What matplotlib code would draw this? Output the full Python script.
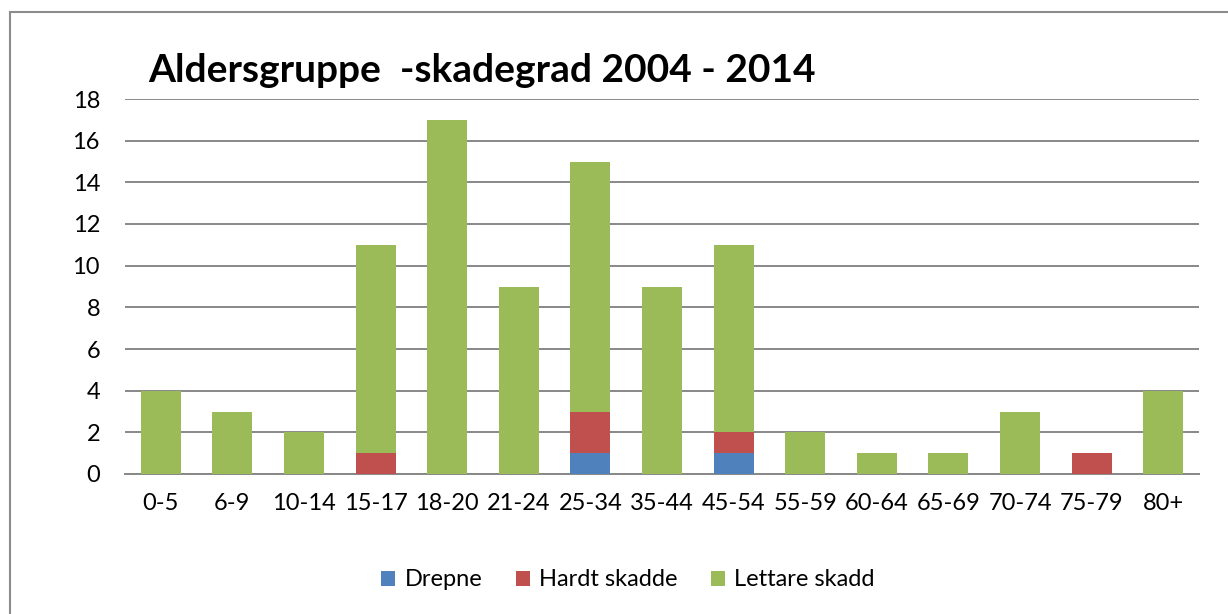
import numpy as np
import matplotlib.pyplot as plt
from matplotlib.patches import Rectangle

plt.rcParams['font.family'] = ['Lato', 'DejaVu Sans']

# Data
categories = ['0-5', '6-9', '10-14', '15-17', '18-20', '21-24', '25-34', '35-44',
              '45-54', '55-59', '60-64', '65-69', '70-74', '75-79', '80+']
drepne = [0, 0, 0, 0, 0, 0, 1, 0, 1, 0, 0, 0, 0, 0, 0]
hardt_skadde = [0, 0, 0, 1, 0, 0, 2, 0, 1, 0, 0, 0, 0, 1, 0]
lettare_skadd = [4, 3, 2, 10, 17, 9, 12, 9, 9, 2, 1, 1, 3, 0, 4]

W, H = 1228, 614
fig = plt.figure(figsize=(W / 100, H / 100), dpi=100)

# outer chart border (only top and left visible)
fig.patches.append(Rectangle((10 / W, -0.1), 1.2, (H - 12) / H + 0.1,
                             transform=fig.transFigure, fill=False,
                             edgecolor='#8c8c8c', linewidth=1.5))

ax = fig.add_axes([125 / W, (H - 474) / H, (1199 - 125) / W, (474 - 99) / H])

x = np.arange(len(categories))
w = 0.56
d = np.array(drepne)
h = np.array(hardt_skadde)
l = np.array(lettare_skadd)
ax.bar(x, d, w, color='#4F81BD', label='Drepne', zorder=3)
ax.bar(x, h, w, bottom=d, color='#C0504D', label='Hardt skadde', zorder=3)
ax.bar(x, l, w, bottom=d + h, color='#9BBB59', label='Lettare skadd', zorder=3)

ax.set_xlim(-0.5, len(categories) - 0.5)
ax.set_ylim(0, 18)
ax.set_yticks(range(0, 19, 2))
ax.set_xticks(x)
ax.set_xticklabels(categories)
ax.yaxis.grid(True, color='#888888', linewidth=1.4, zorder=0)
for s in ['top', 'right', 'left']:
    ax.spines[s].set_visible(False)
ax.spines['bottom'].set_color('#888888')
ax.spines['bottom'].set_linewidth(1.4)
ax.tick_params(axis='both', length=0, labelsize=17, colors='black')
ax.tick_params(axis='y', pad=18)
ax.tick_params(axis='x', pad=14)

fig.text(148 / W, (H - 82) / H, 'Aldersgruppe  -skadegrad 2004 - 2014',
         fontsize=28, fontweight='bold', ha='left', va='baseline')

fig.legend(loc='center', bbox_to_anchor=(628 / W, (H - 580) / H), ncol=3,
           frameon=False, fontsize=17, handlelength=0.6, handleheight=0.6,
           columnspacing=1.4, handletextpad=0.4)

fig.savefig('out.png', dpi=100)
